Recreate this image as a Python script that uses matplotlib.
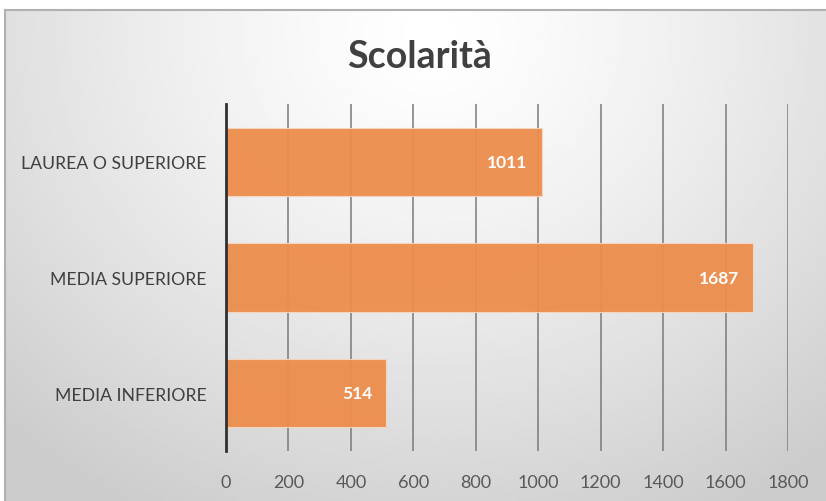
import numpy as np
import matplotlib.pyplot as plt

categories = ["MEDIA INFERIORE", "MEDIA SUPERIORE", "LAUREA O SUPERIORE"]
values = [514, 1687, 1011]
xticks = [0, 200, 400, 600, 800, 1000, 1200, 1400, 1600, 1800]

plt.rcParams['font.family'] = ['Lato', 'DejaVu Sans']
text_color = "#404040"
tick_color = "#595959"
bar_color = "#ED8D4C"

fig = plt.figure(figsize=(8.26, 5.02), dpi=100)

# gradient background of the chart area
bg = fig.add_axes([5 / 826, 0, 1 - 5 / 826, 1 - 11 / 502])
yy, xx = np.mgrid[0:1:300j, 0:1:500j]
r = np.sqrt(((xx - 0.52) / 0.75) ** 2 + ((yy - 0.05) / 1.1) ** 2)
shade = 1.0 - 0.2 * np.clip(r, 0, 1) ** 1.3
bg.imshow(shade, cmap="gray", vmin=0, vmax=1, aspect="auto",
          extent=[0, 1, 1, 0], interpolation="bilinear")
bg.set_xticks([])
bg.set_yticks([])
for side in ["right", "bottom"]:
    bg.spines[side].set_visible(False)
for side in ["top", "left"]:
    bg.spines[side].set_color("#b0b0b0")
    bg.spines[side].set_linewidth(1.5)

ax = fig.add_axes([226 / 826, 50 / 502, (788 - 226) / 826, (452 - 105) / 502])
ax.patch.set_alpha(0)
y = np.arange(len(categories))
bars = ax.barh(y, values, height=0.59, color=bar_color,
               edgecolor="#f6d6c0", linewidth=0.8, zorder=3, alpha=0.95)
for b, v in zip(bars, values):
    ax.text(b.get_width() - 14 * 1800 / 562, b.get_y() + b.get_height() / 2,
            str(v), ha="right", va="center", color="white",
            fontsize=12.5, fontweight="bold", zorder=4)

ax.set_xlim(0, 1800)
ax.set_ylim(-0.5, 2.5)
ax.set_xticks(xticks)
ax.set_yticks(y)
ax.set_yticklabels(categories, color=text_color, fontsize=12.7)
ax.tick_params(length=0)
ax.tick_params(axis="x", pad=16.5, labelsize=13, labelcolor=tick_color)
ax.tick_params(axis="y", pad=14)
ax.grid(axis="x", color="#7a7a7a", linewidth=1.1, zorder=1)
for side in ["top", "right", "bottom"]:
    ax.spines[side].set_visible(False)
ax.spines["left"].set_color("#303030")
ax.spines["left"].set_linewidth(2)
ax.spines["left"].set_zorder(5)

fig.text(0.508, 0.887, "Scolarità", ha="center", va="center",
         fontsize=27, fontweight="bold", color=text_color)

fig.savefig("out.png", dpi=100)
